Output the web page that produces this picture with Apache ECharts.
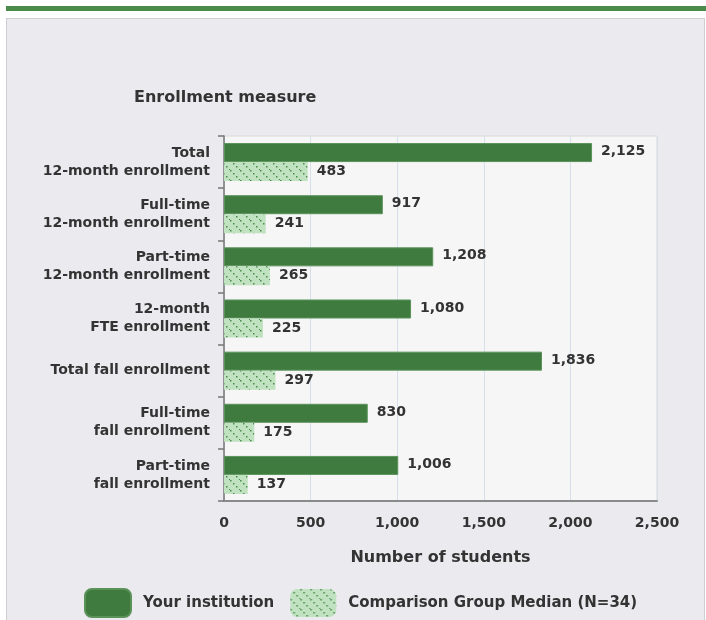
<!DOCTYPE html>
<html><head><meta charset="utf-8">
<script src="https://cdn.jsdelivr.net/npm/echarts@6/dist/echarts.min.js"></script>
<style>
html,body{margin:0;padding:0;background:#fff;}
#topbar{position:absolute;left:6px;top:6px;width:700px;height:5px;background:#4a8a4a;}
#panel{position:absolute;left:6px;top:18px;width:699px;height:602px;background:#ebebef;border:1px solid #cfcfd3;border-bottom:none;box-sizing:border-box;}
#chart{position:absolute;left:0;top:0;width:706px;height:620px;}
</style></head>
<body>
<div id="topbar"></div><div id="panel"></div>
<div id="chart"></div>
<script>
const categories = ["Total\n12-month enrollment","Full-time\n12-month enrollment","Part-time\n12-month enrollment","12-month\nFTE enrollment","Total fall enrollment","Full-time\nfall enrollment","Part-time\nfall enrollment"];
const institution = [2125, 917, 1208, 1080, 1836, 830, 1006];
const comparison = [483, 241, 265, 225, 297, 175, 137];
const xTicks = [0, 500, 1000, 1500, 2000, 2500];

function makePattern(){
  const c = document.createElement('canvas');
  c.width = 10; c.height = 10;
  const g = c.getContext('2d');
  g.fillStyle = '#c0e2c0';
  g.fillRect(0,0,10,10);
  g.fillStyle = '#4a8a4a';
  for (let i=0;i<10;i+=3){ g.fillRect(i, i, 1.5, 1.5); }
  return {image: c, repeat: 'repeat'};
}
const pat = makePattern();
const fmt = v => v.toLocaleString('en-US');
const font = 'DejaVu Sans, Verdana, sans-serif';
const chart = echarts.init(document.getElementById('chart'));
chart.setOption({
  animation:false,
  textStyle:{fontFamily:font},
  title:{text:'Enrollment measure', left:129, top:85, textStyle:{fontSize:16,fontWeight:'bold',color:'#333',fontFamily:font}},
  grid:{left:224, right:49, top:136, bottom:119, show:true, backgroundColor:'#f6f6f6', borderColor:'#d8d8d8', borderWidth:1},
  legend:{top:583, left:79, itemWidth:46, itemHeight:28, itemGap:16,
    textStyle:{fontSize:15,fontWeight:'bold',color:'#333',fontFamily:font, padding:[0,0,0,7]},
    data:[{name:'Your institution'},{name:'Comparison Group Median (N=34)'}]},
  xAxis:{type:'value', min:0, max:2500, interval:500,
    name:'Number of students', nameLocation:'middle', nameGap:49,
    nameTextStyle:{fontSize:16,fontWeight:'bold',color:'#333'},
    axisLine:{show:true, lineStyle:{color:'#8a8a8a', width:2}},
    axisTick:{show:false},
    axisLabel:{fontSize:14,fontWeight:'bold',color:'#333',margin:15, formatter:v=>fmt(v)},
    splitLine:{show:true, lineStyle:{color:'#d6e0ec', width:1}}},
  yAxis:{type:'category', data:categories, inverse:true,
    axisLine:{show:true, lineStyle:{color:'#777', width:1.5}},
    axisTick:{show:true, length:6, lineStyle:{color:'#777', width:1.5}},
    axisLabel:{fontSize:14,fontWeight:'bold',color:'#333',margin:14,lineHeight:18, align:'right'},
    splitLine:{show:false}},
  series:[
    {name:'Your institution', type:'bar', data:institution, barWidth:19, barGap:'0%', barCategoryGap:'27%',
     itemStyle:{color:'#3f7b3f', borderColor:'#5a925a', borderWidth:1},
     label:{show:true, position:'right', distance:9, offset:[0,-1], fontSize:14, fontWeight:'bold', color:'#333', formatter:p=>fmt(p.value)}},
    {name:'Comparison Group Median (N=34)', type:'bar', data:comparison, barWidth:19,
     itemStyle:{color:pat},
     label:{show:true, position:'right', distance:9, fontSize:14, fontWeight:'bold', color:'#333', formatter:p=>fmt(p.value)}}
  ]
});
</script>
</body></html>
